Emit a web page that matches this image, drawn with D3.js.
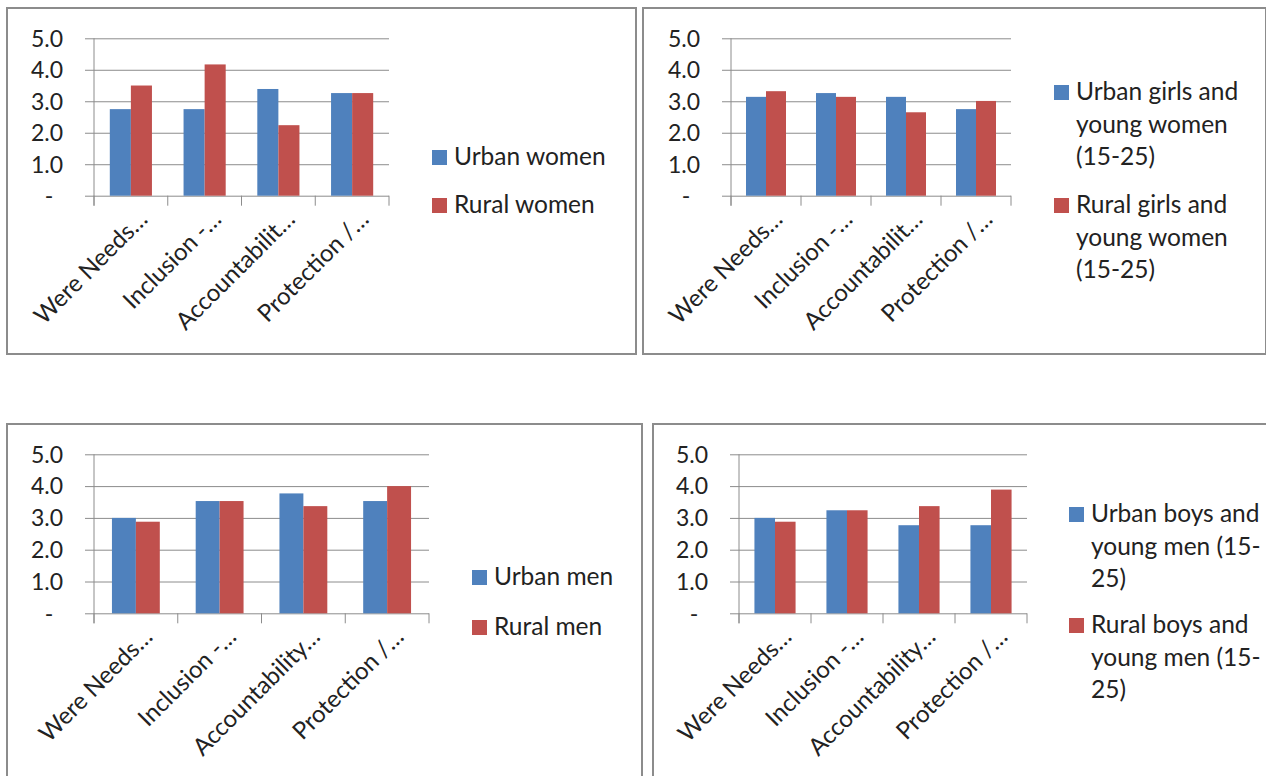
<!DOCTYPE html>
<html>
<head>
<meta charset="utf-8">
<style>
  body { margin: 0; background: #fff; }
  svg text { font-family: Lato, "Noto Sans", sans-serif; fill: #222; }
</style>
</head>
<body>
<script src="https://d3js.org/d3.v7.min.js"></script>
<script>
// categories (as shown, truncated by the chart)
const topCategories = ['Were Needs…', 'Inclusion -…', 'Accountabilit…', 'Protection /…']
const bottomCategories = ['Were Needs…', 'Inclusion -…', 'Accountability…', 'Protection /…']
const yTicks = [0, 1, 2, 3, 4, 5]

// series values
const urbanWomen = [2.75, 2.75, 3.39, 3.26]
const ruralWomen = [3.5, 4.17, 2.24, 3.26]
const urbanGirls = [3.14, 3.26, 3.14, 2.75]
const ruralGirls = [3.32, 3.14, 2.65, 3.01]
const urbanMen = [3.0, 3.53, 3.77, 3.53]
const ruralMen = [2.88, 3.53, 3.37, 4.0]
const urbanBoys = [3.0, 3.24, 2.77, 2.77]
const ruralBoys = [2.88, 3.24, 3.37, 3.89]

// legend labels, line by line
const womenNames = [['Urban women'], ['Rural women']]
const girlsNames = [['Urban girls and', 'young women', '(15-25)'], ['Rural girls and', 'young women', '(15-25)']]
const menNames = [['Urban men'], ['Rural men']]
const boysNames = [['Urban boys and', 'young men (15-', '25)'], ['Rural boys and', 'young men (15-', '25)']]

const colors = ['#4F81BD', '#C0504D']
const lineColor = '#8c8c8c'
const tickFont = 23
const catFont = 24
const legendFont = 24.5

const w = 1266
const h = 776

const svg = d3.select('body')
    .append('svg')
    .attr('width', w)
    .attr('height', h)

function drawPanel(p) {
    const g = svg.append('g')

    g.append('rect')
        .attr('x', p.box[0])
        .attr('y', p.box[1])
        .attr('width', p.box[2])
        .attr('height', p.box[3])
        .attr('fill', '#fff')
        .attr('stroke', lineColor)
        .attr('stroke-width', 2)

    const y = d3.scaleLinear().domain([0, 5]).range([p.bottom, p.top])
    const x = d3.scaleBand().domain(p.categories).range([p.left, p.right])
    const bw = x.bandwidth() / 3.5
    const xs = d3.scaleBand().domain([0, 1]).range([0.75 * bw, 2.75 * bw])

    // gridlines (with the short outward tick on the left)
    const grid = g.append('g')
        .attr('transform', 'translate(' + (p.left - 9) + ',0)')
        .call(d3.axisRight(y).tickValues(yTicks).tickSize(p.right - p.left + 9).tickFormat(''))
    grid.select('.domain').remove()
    grid.selectAll('line').attr('stroke', lineColor)

    // y labels
    const yAxis = g.append('g')
        .attr('transform', 'translate(' + p.left + ',0)')
        .call(d3.axisLeft(y).tickValues(yTicks).tickSize(0).tickPadding(31)
            .tickFormat(d => d === 0 ? '-' : d3.format('.1f')(d)))
    yAxis.select('.domain').remove()
    yAxis.selectAll('text')
        .attr('font-size', tickFont)
        .attr('font-family', null)
        .attr('dy', '0.34em')
        .filter(d => d === 0)
        .attr('x', -45)
        .attr('text-anchor', 'middle')

    // vertical axis line
    g.append('line')
        .attr('x1', p.left).attr('x2', p.left)
        .attr('y1', p.top).attr('y2', p.bottom + 10)
        .attr('stroke', lineColor)

    // category boundary ticks
    g.selectAll('.ctick')
        .data(p.categories.map(c => x(c)).concat([p.right]))
        .enter()
        .append('line')
        .attr('x1', d => d).attr('x2', d => d)
        .attr('y1', p.bottom).attr('y2', p.bottom + 10)
        .attr('stroke', lineColor)

    // bars
    p.series.forEach((vals, si) => {
        g.selectAll('.bar' + si)
            .data(vals)
            .enter()
            .append('rect')
            .attr('x', (d, i) => x(p.categories[i]) + xs(si))
            .attr('y', d => y(d))
            .attr('width', xs.bandwidth())
            .attr('height', d => y(0) - y(d))
            .attr('fill', colors[si])
    })

    // category labels
    const xAxis = g.append('g')
        .attr('transform', 'translate(0,' + p.bottom + ')')
        .call(d3.axisBottom(x).tickSize(0))
    xAxis.select('.domain').remove()
    xAxis.selectAll('text')
        .attr('font-size', catFont)
        .attr('font-family', null)
        .attr('x', 0).attr('y', 0).attr('dy', 0)
        .attr('transform', 'translate(18,25) rotate(-45)')
        .attr('text-anchor', 'end')

    // legend
    p.names.forEach((lines, si) => {
        const ly = p.legendY[si]
        g.append('rect')
            .attr('x', p.legendX)
            .attr('y', ly)
            .attr('width', 15)
            .attr('height', 15)
            .attr('fill', colors[si])
        const t = g.append('text')
            .attr('x', p.legendX + 22)
            .attr('y', ly + 15)
            .attr('font-size', legendFont)
        lines.forEach((line, li) => {
            t.append('tspan')
                .attr('x', p.legendX + 22)
                .attr('dy', li === 0 ? 0 : 32.5)
                .text(line)
        })
    })
}

const panels = [
    { box: [7, 8, 629, 346], left: 94, right: 389, top: 38.3, bottom: 195.7,
      categories: topCategories, series: [urbanWomen, ruralWomen], names: womenNames,
      legendX: 432, legendY: [150, 198] },
    { box: [643, 8, 623, 346], left: 731, right: 1011, top: 38.3, bottom: 195.7,
      categories: topCategories, series: [urbanGirls, ruralGirls], names: girlsNames,
      legendX: 1054, legendY: [85, 198] },
    { box: [7, 424, 635, 370], left: 94, right: 429, top: 454.3, bottom: 613.3,
      categories: bottomCategories, series: [urbanMen, ruralMen], names: menNames,
      legendX: 472, legendY: [570, 620] },
    { box: [653, 424, 630, 370], left: 739, right: 1027, top: 454.3, bottom: 613.3,
      categories: bottomCategories, series: [urbanBoys, ruralBoys], names: boysNames,
      legendX: 1069, legendY: [507, 618] }
]

panels.forEach(drawPanel)
</script>
</body>
</html>
